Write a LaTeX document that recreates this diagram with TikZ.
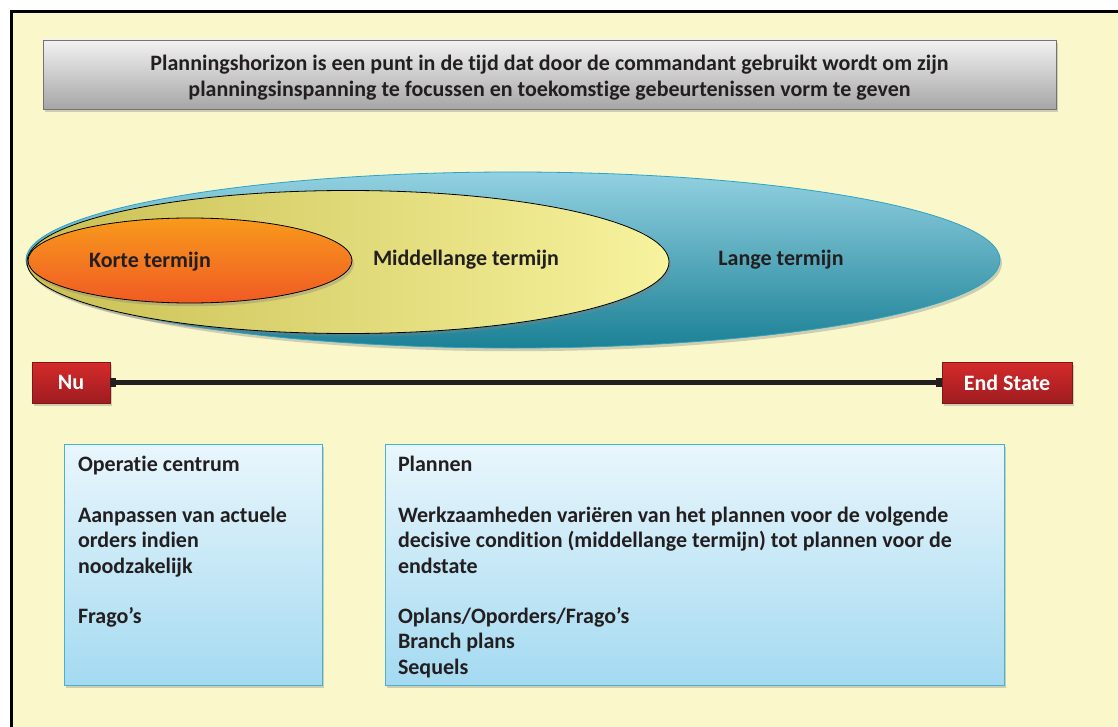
\documentclass[tikz,border=0pt]{standalone}
\usepackage{fontspec}
\setmainfont{Carlito}[Ligatures={NoCommon,NoRare,NoContextual}]
\usepackage{tikz}
\usetikzlibrary{positioning, shapes.geometric, shadows, arrows.meta}

\definecolor{bgyellow}{HTML}{FAF7CB}
\definecolor{inkdark}{HTML}{231F20}
\definecolor{langetop}{HTML}{92D1E1}
\definecolor{langebot}{HTML}{1C8196}
\definecolor{langeline}{HTML}{2BA4C3}
\definecolor{middleft}{HTML}{C9BF52}
\definecolor{midright}{HTML}{F7F39E}
\definecolor{kortetop}{HTML}{F89A1C}
\definecolor{kortebot}{HTML}{F05A24}
\definecolor{redtop}{HTML}{D52B2B}
\definecolor{redbot}{HTML}{9F1C20}
\definecolor{bluetop}{HTML}{E9F6FC}
\definecolor{bluebot}{HTML}{A4DAF1}
\definecolor{blueline}{HTML}{45B2D3}

\begin{document}
\begin{tikzpicture}[x=0.5pt, y=-0.5pt, font=\fontsize{11}{12.65}\selectfont\bfseries, text=inkdark]
    \tikzstyle{softshadow}=[drop shadow={opacity=0.35, shadow xshift=1pt, shadow yshift=-1.6pt}]
    \tikzstyle{titlebox}=[rectangle, draw=black!55, thin, top color=black!5, bottom color=black!35, minimum width=506.5pt, minimum height=34.5pt, softshadow]
    \tikzstyle{term}=[ellipse, inner sep=0pt, softshadow]
    \tikzstyle{endpoint}=[rectangle, draw=redbot!80!black, thin, top color=redtop, bottom color=redbot, text=white, minimum height=20.5pt, inner sep=0pt, softshadow]
    \tikzstyle{infobox}=[rectangle, draw=blueline, thin, top color=bluetop, bottom color=bluebot, minimum height=120.5pt, softshadow]
    \tikzstyle{infotext}=[anchor=north west, inner sep=0pt, align=left]

    % Background and frame
    \useasboundingbox (0,0) rectangle (1118,727);
    \fill[white] (0,0) rectangle (1118,727);
    \begin{scope}
        \clip (0,0) rectangle (1118,727);
        \fill[bgyellow] (11.5,11.5) rectangle (1140,750);
        \draw[black, line width=1.75pt] (11.5,11.5) rectangle (1140,750);
    \end{scope}

    % Title
    \node[titlebox] (title) at (549.5,74.5) {};
    \node[align=center] (titletext) at ([yshift=-1.5pt]title.center)
        {Planningshorizon is een punt in de tijd dat door de commandant gebruikt wordt om zijn\\
         planningsinspanning te focussen en toekomstige gebeurtenissen vorm te geven};

    % Horizons
    \node[term, draw=langeline, thin, top color=langetop, bottom color=langebot,
          minimum width=487pt, minimum height=88pt] (lange) at (513,260) {};
    \node[term, draw=black, thin, left color=middleft, right color=midright,
          minimum width=321pt, minimum height=71.5pt] (midden) at (348,262) {};
    \node[term, draw=black, thin, top color=kortetop, bottom color=kortebot,
          minimum width=162pt, minimum height=42.5pt] (korte) at (190,260.5) {};
    \node (kortelabel)  at (150,262) {Korte termijn};
    \node (middenlabel) at (466,260) {Middellange termijn};
    \node (langelabel)  at (781,260) {Lange termijn};

    % Timeline
    \node[endpoint, minimum width=39pt] (nu) at (71,382.5) {Nu};
    \node[endpoint, minimum width=65pt] (endstate) at (1007,382.5) {End State};
    \draw[inkdark, line width=2.5pt, {Square[length=3pt,width=4.5pt]}-{Square[length=3pt,width=4.5pt]}] (nu) -- (endstate);

    % Boxes below
    \node[infobox, minimum width=129pt] (ops) at (193,564.5) {};
    \node[infobox, minimum width=309.5pt] (plan) at (694.5,564.5) {};
    \node[infotext] (opstext) at ([xshift=7pt, yshift=-6.2pt]ops.north west)
        {Operatie centrum\\[12.65pt]
         Aanpassen van actuele\\ orders indien\\ noodzakelijk\\[12.65pt]
         Frago’s};
    \node[infotext] (plantext) at ([xshift=6.5pt, yshift=-6.2pt]plan.north west)
        {Plannen\\[12.65pt]
         Werkzaamheden variëren van het plannen voor de volgende\\
         decisive condition (middellange termijn) tot plannen voor de\\
         endstate\\[12.65pt]
         Oplans/Oporders/Frago’s\\
         Branch plans\\
         Sequels};
\end{tikzpicture}
\end{document}
